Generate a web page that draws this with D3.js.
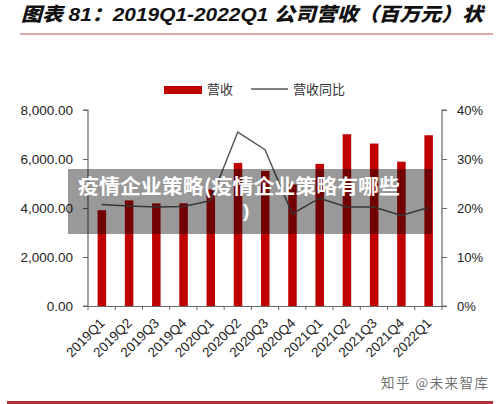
<!DOCTYPE html>
<html><head><meta charset="utf-8">
<script src="https://cdn.jsdelivr.net/npm/d3@7"></script>
<style>body{margin:0;background:#fff}svg{display:block}</style>
</head><body>
<svg id="c" width="500" height="404"></svg>
<script>
const categories = ["2019Q1","2019Q2","2019Q3","2019Q4","2020Q1","2020Q2","2020Q3","2020Q4","2021Q1","2021Q2","2021Q3","2021Q4","2022Q1"];
const revenue = [3910, 4310, 4190, 4190, 4760, 5840, 5510, 4960, 5800, 7010, 6630, 5890, 6970];
const yoy = [0.207, 0.204, 0.202, 0.203, 0.215, 0.355, 0.319, 0.188, 0.220, 0.202, 0.202, 0.185, 0.201];
const leftTicks = [0, 2000, 4000, 6000, 8000];
const rightTicks = [0, 0.1, 0.2, 0.3, 0.4];
const titleText = "图表 81：2019Q1-2022Q1 公司营收（百万元）状";
const legendLabels = ["营收", "营收同比"];
const overlayLines = ["疫情企业策略(疫情企业策略有哪些", ")"];
const watermark = "知乎 @未来智库";

const svg = d3.select("#c");
const L = 88, R = 442, T = 110, B = 306;
const x = d3.scaleBand().domain(categories).range([L, R]);
const yL = d3.scaleLinear().domain([0, 8000]).range([B, T]);
const yR = d3.scaleLinear().domain([0, 0.4]).range([B, T]);
const latin = "Liberation Sans, Arial, sans-serif";
const cjk = "'Noto Sans CJK SC', sans-serif";

// title
svg.append("text").attr("x", 21).attr("y", 21)
  .attr("font-family", "Liberation Sans, 'Noto Sans CJK SC', sans-serif")
  .attr("font-weight", 900).attr("font-style", "italic")
  .attr("font-size", 19).attr("fill", "#111")
  .attr("textLength", 462).attr("lengthAdjust", "spacingAndGlyphs")
  .text(titleText);
svg.append("line").attr("x1", 20).attr("x2", 493).attr("y1", 34).attr("y2", 34)
  .attr("stroke", "#c0504d").attr("stroke-width", 1);

// legend
svg.append("rect").attr("x", 164).attr("y", 86).attr("width", 38).attr("height", 8).attr("fill", "#c00000");
svg.append("text").attr("x", 207).attr("y", 94).attr("font-family", cjk).attr("font-size", 13).attr("fill", "#333").text(legendLabels[0]);
svg.append("line").attr("x1", 251).attr("x2", 288).attr("y1", 89).attr("y2", 89).attr("stroke", "#595959").attr("stroke-width", 1.3);
svg.append("text").attr("x", 293).attr("y", 94).attr("font-family", cjk).attr("font-size", 13).attr("fill", "#333").text(legendLabels[1]);

// bars
svg.append("g").selectAll("rect").data(revenue).join("rect")
  .attr("x", (d, i) => x(categories[i]) + x.bandwidth() / 2 - 4)
  .attr("width", 8.5)
  .attr("y", d => yL(d)).attr("height", d => B - yL(d))
  .attr("fill", "#c00000");

// line
const line = d3.line().x((d, i) => x(categories[i]) + x.bandwidth() / 2).y(d => yR(d));
svg.append("path").datum(yoy).attr("d", line).attr("fill", "none")
  .attr("stroke", "#595959").attr("stroke-width", 1.5);

// axes
const axisColor = "#666";
const gL = svg.append("g").attr("transform", `translate(${L},0)`)
  .call(d3.axisLeft(yL).tickValues(leftTicks).tickFormat(d3.format(",.2f")).tickSize(5).tickPadding(10));
const gR = svg.append("g").attr("transform", `translate(${R},0)`)
  .call(d3.axisRight(yR).tickValues(rightTicks).tickFormat(d3.format(".0%")).tickSize(5).tickPadding(10));
const gX = svg.append("g").attr("transform", `translate(0,${B})`)
  .call(d3.axisBottom(x).tickSize(0).tickFormat(""));
[gL, gR, gX].forEach(g => {
  g.select(".domain").attr("stroke", axisColor).attr("stroke-width", 1.2);
  g.selectAll(".tick line").attr("stroke", axisColor);
  g.selectAll("text").attr("font-family", latin).attr("font-size", 13.5).attr("fill", "#222");
});
gR.selectAll("text").attr("font-size", 13);
gL.select(".domain").attr("d", `M-5,${T}H0V${B}H-5`);
gR.select(".domain").attr("d", `M5,${T}H0V${B}H5`);
// x ticks at band boundaries
const bounds = categories.map(c => x(c)).concat([R]);
gX.selectAll(".bt").data(bounds).join("line").attr("class", "bt")
  .attr("x1", d => d).attr("x2", d => d).attr("y1", 0).attr("y2", 4)
  .attr("stroke", axisColor);
gX.selectAll(".xl").data(categories).join("text").attr("class", "xl")
  .attr("transform", d => `translate(${x(d) + x.bandwidth() / 2 + 4},${18}) rotate(-45)`)
  .attr("text-anchor", "end")
  .attr("font-family", latin).attr("font-size", 13.5).attr("fill", "#222")
  .text(d => d);

// overlay band
svg.append("rect").attr("x", 68).attr("y", 169).attr("width", 364).attr("height", 65)
  .attr("fill", "#000").attr("fill-opacity", 0.4);
svg.append("text").attr("x", 78).attr("y", 194).attr("font-family", cjk).attr("font-weight", "bold")
  .attr("font-size", 20).attr("fill", "#fff").attr("textLength", 322).attr("lengthAdjust", "spacingAndGlyphs")
  .text(overlayLines[0]);
svg.append("text").attr("x", 243).attr("y", 217).attr("font-family", latin).attr("font-weight", "bold")
  .attr("font-size", 19).attr("fill", "#fff").text(overlayLines[1]);

// watermark & bottom rule
svg.append("text").attr("x", 381).attr("y", 388).attr("font-family", cjk).attr("font-size", 13.5)
  .attr("fill", "#555").attr("fill-opacity", 0.85).attr("textLength", 107).text(watermark);
svg.append("rect").attr("x", 7).attr("y", 401).attr("width", 486).attr("height", 3).attr("fill", "#b0303a");
</script>
</body></html>
